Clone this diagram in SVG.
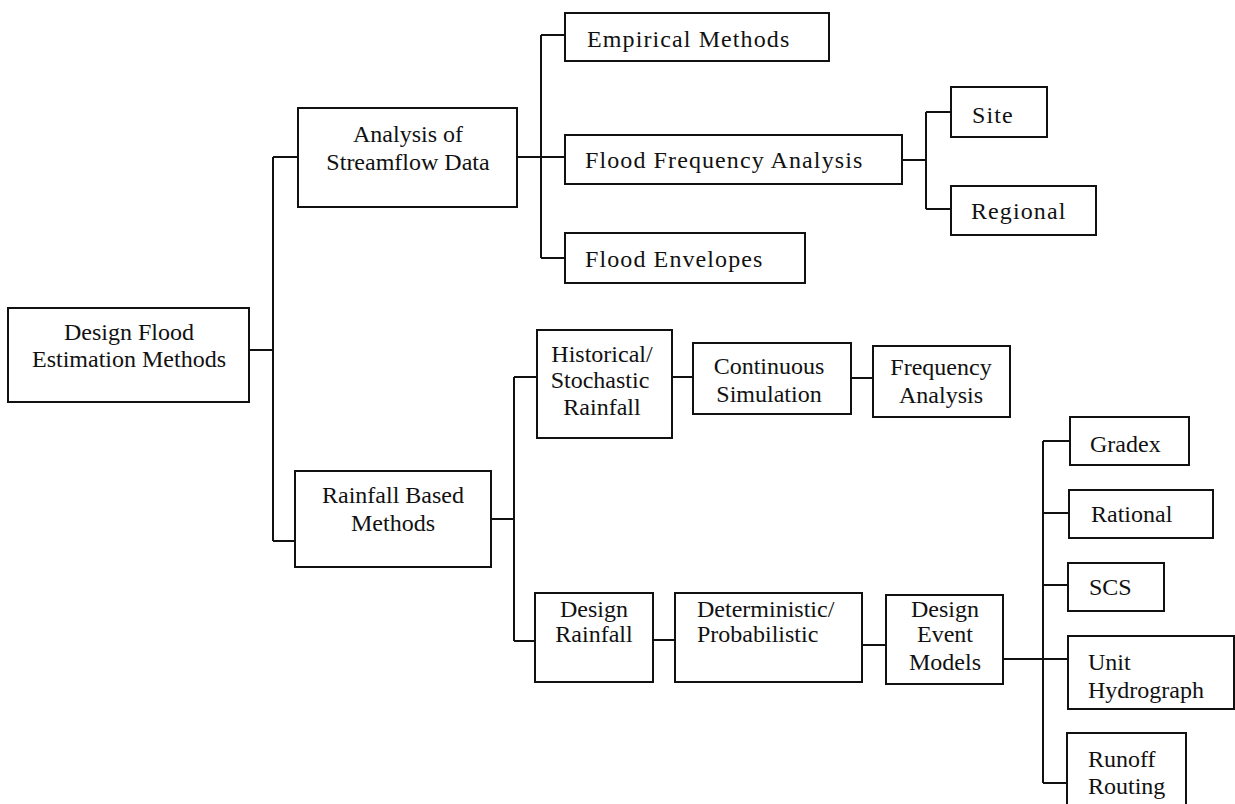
<svg xmlns="http://www.w3.org/2000/svg" width="1235" height="804" viewBox="0 0 1235 804">
<style>
  .box { fill: #fff; stroke: #111; stroke-width: 2; }
  .con { fill: none; stroke: #111; stroke-width: 2; }
  text { font-family: "Liberation Serif", "Times New Roman", serif; font-size: 24px; fill: #111; }
  .c { text-anchor: middle; }
  .w { font-size: 24px; letter-spacing: 1.1px; }
</style>
<rect x="0" y="0" width="1235" height="804" fill="#fff"/>
<g id="connectors">
  <path class="con" d="M249,350 H273 M273,157 V541 M273,157 H298 M273,541 H295"/>
  <path class="con" d="M517,157 H565 M541,35 V258 M541,35 H565 M541,258 H565"/>
  <path class="con" d="M902,160 H926 M926,112 V209 M926,112 H951 M926,209 H951"/>
  <path class="con" d="M491,519 H514 M514,377 V641 M514,377 H537 M514,641 H535"/>
  <path class="con" d="M672,377 H693 M851,378 H873"/>
  <path class="con" d="M653,640 H675 M862,645 H886"/>
  <path class="con" d="M1003,659 H1068 M1043,441 V783 M1043,441 H1070 M1043,513 H1069 M1043,585 H1068 M1043,783 H1067"/>
</g>
<g id="design-flood">
  <rect class="box" x="8" y="308" width="241" height="94"/>
  <text class="c" x="129" y="340">Design Flood</text>
  <text class="c" x="129" y="367">Estimation Methods</text>
</g>
<g id="analysis-streamflow">
  <rect class="box" x="298" y="108" width="219" height="99"/>
  <text class="c" x="408" y="142">Analysis of</text>
  <text class="c" x="408" y="170">Streamflow Data</text>
</g>
<g id="empirical">
  <rect class="box" x="565" y="13" width="264" height="48"/>
  <text class="w" x="587" y="47">Empirical Methods</text>
</g>
<g id="ffa">
  <rect class="box" x="565" y="135" width="337" height="49"/>
  <text class="w" x="585" y="168">Flood Frequency Analysis</text>
</g>
<g id="envelopes">
  <rect class="box" x="565" y="233" width="240" height="50"/>
  <text class="w" x="585" y="267">Flood Envelopes</text>
</g>
<g id="site">
  <rect class="box" x="951" y="87" width="96" height="50"/>
  <text class="w" x="972" y="123">Site</text>
</g>
<g id="regional">
  <rect class="box" x="951" y="186" width="145" height="49"/>
  <text class="w" x="971" y="219">Regional</text>
</g>
<g id="rainfall-based">
  <rect class="box" x="295" y="471" width="196" height="96"/>
  <text class="c" x="393" y="503">Rainfall Based</text>
  <text class="c" x="393" y="531">Methods</text>
</g>
<g id="historical">
  <rect class="box" x="537" y="330" width="135" height="108"/>
  <text class="c" x="602" y="362">Historical/</text>
  <text class="c" x="600" y="388">Stochastic</text>
  <text class="c" x="602" y="415">Rainfall</text>
</g>
<g id="continuous">
  <rect class="box" x="693" y="343" width="158" height="71"/>
  <text class="c" x="769" y="374">Continuous</text>
  <text class="c" x="769" y="402">Simulation</text>
</g>
<g id="frequency">
  <rect class="box" x="873" y="346" width="137" height="71"/>
  <text class="c" x="941" y="375">Frequency</text>
  <text class="c" x="941" y="403">Analysis</text>
</g>
<g id="design-rainfall">
  <rect class="box" x="535" y="593" width="118" height="89"/>
  <text class="c" x="594" y="617">Design</text>
  <text class="c" x="594" y="642">Rainfall</text>
</g>
<g id="deterministic">
  <rect class="box" x="675" y="593" width="187" height="89"/>
  <text x="697" y="617">Deterministic/</text>
  <text x="697" y="642">Probabilistic</text>
</g>
<g id="design-event">
  <rect class="box" x="886" y="595" width="117" height="89"/>
  <text class="c" x="945" y="617">Design</text>
  <text class="c" x="945" y="642">Event</text>
  <text class="c" x="945" y="670">Models</text>
</g>
<g id="gradex">
  <rect class="box" x="1070" y="417" width="119" height="48"/>
  <text x="1090" y="452">Gradex</text>
</g>
<g id="rational">
  <rect class="box" x="1069" y="490" width="144" height="48"/>
  <text x="1091" y="522">Rational</text>
</g>
<g id="scs">
  <rect class="box" x="1068" y="563" width="96" height="48"/>
  <text x="1089" y="595">SCS</text>
</g>
<g id="unit-hydrograph">
  <rect class="box" x="1068" y="636" width="166" height="73"/>
  <text x="1088" y="670">Unit</text>
  <text x="1088" y="698">Hydrograph</text>
</g>
<g id="runoff-routing">
  <rect class="box" x="1067" y="733" width="119" height="80"/>
  <text x="1088" y="767">Runoff</text>
  <text x="1088" y="794">Routing</text>
</g>
</svg>
